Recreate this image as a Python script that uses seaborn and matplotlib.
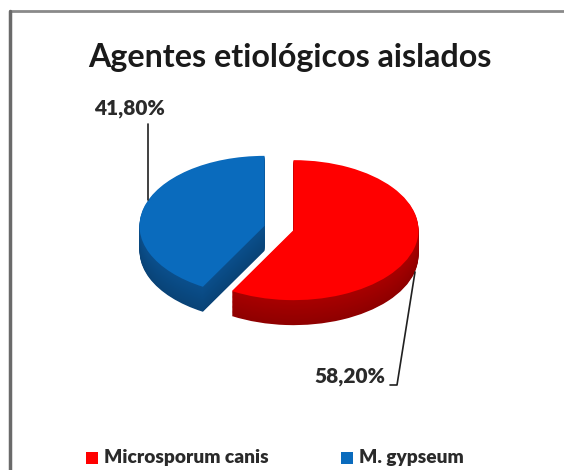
import matplotlib
matplotlib.use("Agg")
import matplotlib.pyplot as plt
import seaborn as sns
import numpy as np
from matplotlib.colors import to_rgb

# ---- data ----
categories = ["Microsporum canis", "M. gypseum"]
values = [58.20, 41.80]
value_labels = ["58,20%", "41,80%"]
title = "Agentes etiológicos aislados"

top_colors = ["#ff0000", "#0a6bbd"]
side_colors = ["#a80000", "#0a4f8c"]

sns.set_theme(style="white")
plt.rcParams['font.family'] = ['Lato', 'DejaVu Sans']

W, H = 564, 470
fig = plt.figure(figsize=(W / 100, H / 100), dpi=100)
fig.patch.set_facecolor("white")

# overlay axes in pixel coordinates
ov = fig.add_axes([0, 0, 1, 1], zorder=3)
ov.set_xlim(0, W)
ov.set_ylim(H, 0)
ov.axis("off")
ov.patch.set_alpha(0)

# ---- pie axes (elliptical, 3D look) ----
cx, cy = 279, 228        # px
rx, ry = 125, 70         # px per unit
span = 1.6
axw, axh = 2 * span * rx, 2 * span * ry
pax = fig.add_axes([(cx - axw / 2) / W, (H - cy - axh / 2) / H, axw / W, axh / H], zorder=2)

explode = [0.12, 0.12]
depth = 25 / ry
N = 30
for k in range(N, 0, -1):
    f = k / N
    cols = []
    for sc in side_colors:
        r, g, b = to_rgb(sc)
        s = 0.85 + 0.15 * (1 - f)
        cols.append((r * s, g * s, b * s))
    pax.pie(values, colors=cols, startangle=90, counterclock=False,
            explode=explode, radius=1, center=(0, -depth * f),
            wedgeprops=dict(linewidth=0))
pax.pie(values, colors=top_colors, startangle=90, counterclock=False,
        explode=explode, radius=1, center=(0, 0),
        wedgeprops=dict(linewidth=0))
pax.set_aspect("auto")
pax.set_xlim(-span, span)
pax.set_ylim(-span, span)
pax.axis("off")

# ---- frame ----
ov.plot([9.5, W], [11, 11], color="#8a8a8a", lw=2)
ov.plot([9.5, 9.5], [11, H], color="#6a6a6a", lw=2.5)

# ---- title (fit to width) ----
t = ov.text(290, 57, title, ha="center", va="center", fontsize=26,
            fontweight="bold", color="#1a1a1a")
fig.canvas.draw()
bb = t.get_window_extent()
t.set_fontsize(26 * 404 / bb.width)

# ---- data labels ----
ov.text(130, 108, value_labels[1], ha="center", va="center", fontsize=15,
        fontweight="heavy", color="#2a2a2a")
ov.plot([148, 148], [124, 200], color="#202020", lw=1.2)

ov.text(350, 376, value_labels[0], ha="center", va="center", fontsize=15,
        fontweight="heavy", color="#2a2a2a")
ov.plot([415, 397, 390], [272, 385, 385], color="#202020", lw=1.2)

# ---- legend ----
legend_x = [86, 341]
for i, cat in enumerate(categories):
    ov.add_patch(plt.Rectangle((legend_x[i], 452), 12, 12, color=top_colors[i], lw=0))
    ov.text(legend_x[i] + 18, 458, cat, ha="left", va="center", fontsize=13.8,
            fontweight="heavy", color="#2a2a2a")

fig.savefig("out.png", dpi=100, facecolor="white")
